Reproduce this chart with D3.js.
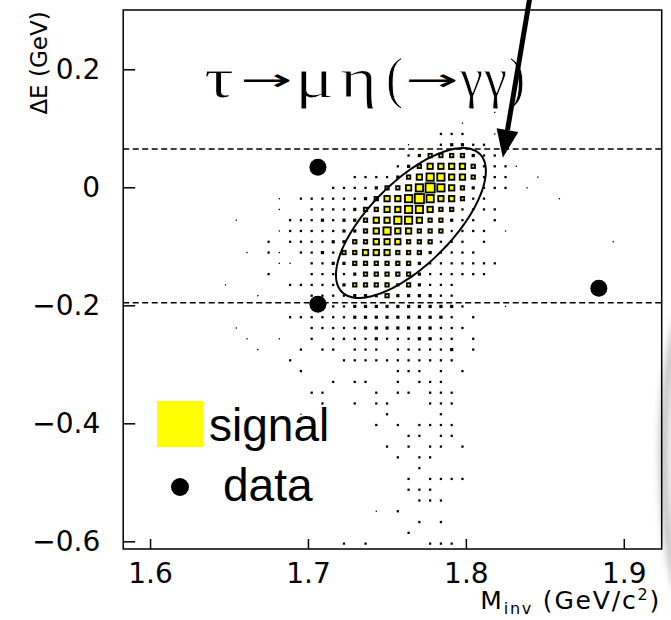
<!DOCTYPE html>
<html>
<head>
<meta charset="utf-8">
<script src="https://cdn.jsdelivr.net/npm/d3@7"></script>
<style>
  body { margin: 0; background: #fff; }
  svg { display: block; }
</style>
</head>
<body>
<svg id="chart" width="671" height="620"></svg>
<script>
// ---- data -------------------------------------------------------------
const massRange = [1.583, 1.924];      // M_inv axis (GeV/c^2)
const deRange = [-0.613, 0.3005];      // ΔE axis (GeV)
const nBinsMass = 50;
const nBinsDE = 50;

const massTicks = [1.6, 1.7, 1.8, 1.9];
const massTickLabels = ["1.6", "1.7", "1.8", "1.9"];
const deTicks = [0.2, 0, -0.2, -0.4, -0.6];
const deTickLabels = ["0.2", "0", "\u22120.2", "\u22120.4", "\u22120.6"];

// ΔE selection band (dashed lines)
const deBand = [0.065, -0.1955];

// observed events
const dataMass = [1.7063, 1.7063, 1.8842];
const dataDE = [0.034, -0.198, -0.171];

// signal MC, 2D histogram: [ΔE bin (from bottom), mass bin (from left), entries]
const signalCells = [
  [40,34,1],
  [39,31,1],
  [38,29,3],[38,30,3],[38,31,3],[38,34,1],
  [37,26,1],[37,29,3],[37,30,6],[37,31,6],[37,32,3],[37,33,3],
  [36,26,3],[36,27,6],[36,28,16],[36,29,16],[36,30,16],[36,31,16],[36,32,6],[36,33,3],[36,34,3],
  [35,25,3],[35,26,6],[35,27,16],[35,28,30],[35,29,30],[35,30,30],[35,31,30],[35,32,16],[35,33,3],[35,34,3],[35,35,3],[35,36,1],
  [34,21,3],[34,22,3],[34,23,3],[34,24,3],[34,25,6],[34,26,16],[34,27,30],[34,28,48],[34,29,48],[34,30,30],[34,31,30],[34,32,16],[34,33,3],[34,34,3],[34,35,3],[34,38,1],
  [33,19,3],[33,20,3],[33,21,3],[33,22,3],[33,23,6],[33,24,16],[33,25,16],[33,26,30],[33,27,48],[33,28,70],[33,29,48],[33,30,30],[33,31,16],[33,32,6],[33,33,3],[33,34,3],[33,35,3],[33,37,1],
  [32,14,1],[32,16,3],[32,17,3],[32,18,3],[32,19,3],[32,20,3],[32,21,3],[32,22,6],[32,23,16],[32,24,30],[32,25,30],[32,26,48],[32,27,70],[32,28,48],[32,29,30],[32,30,30],[32,31,16],[32,32,3],[32,33,3],[32,40,1],
  [31,14,1],[31,17,3],[31,18,3],[31,19,3],[31,20,3],[31,21,6],[31,22,16],[31,23,16],[31,24,30],[31,25,30],[31,26,48],[31,27,48],[31,28,30],[31,29,16],[31,30,16],[31,31,3],[31,32,3],[31,33,3],[31,34,3],
  [30,10,1],[30,15,3],[30,16,3],[30,17,3],[30,18,6],[30,19,3],[30,20,6],[30,21,6],[30,22,16],[30,23,30],[30,24,30],[30,25,48],[30,26,48],[30,27,30],[30,28,16],[30,29,16],[30,30,6],[30,31,3],[30,32,3],[30,34,3],
  [29,14,1],[29,15,3],[29,16,3],[29,17,3],[29,18,3],[29,19,3],[29,20,6],[29,21,6],[29,22,16],[29,23,30],[29,24,48],[29,25,30],[29,26,30],[29,27,16],[29,28,16],[29,29,16],[29,30,3],[29,31,3],[29,32,3],[29,33,3],[29,35,1],
  [28,13,3],[28,15,3],[28,16,3],[28,17,3],[28,18,3],[28,19,6],[28,20,6],[28,21,16],[28,22,16],[28,23,30],[28,24,30],[28,25,30],[28,26,16],[28,27,16],[28,28,16],[28,29,3],[28,30,3],[28,31,3],[28,33,3],[28,45,1],
  [27,11,1],[27,13,3],[27,14,1],[27,16,3],[27,17,3],[27,18,6],[27,19,3],[27,20,16],[27,21,16],[27,22,30],[27,23,30],[27,24,30],[27,25,16],[27,26,16],[27,27,16],[27,28,6],[27,29,3],[27,30,3],[27,31,3],[27,32,3],
  [26,14,1],[26,15,1],[26,17,3],[26,18,3],[26,19,6],[26,20,6],[26,21,16],[26,22,16],[26,23,16],[26,24,16],[26,25,16],[26,26,16],[26,27,6],[26,28,3],[26,29,3],[26,30,3],[26,31,3],[26,32,3],[26,33,3],[26,34,3],
  [25,13,3],[25,17,3],[25,18,3],[25,19,3],[25,20,3],[25,21,6],[25,22,16],[25,23,16],[25,24,16],[25,25,16],[25,26,16],[25,27,6],[25,28,3],[25,29,3],[25,30,3],[25,31,3],[25,32,3],[25,33,3],
  [24,9,1],[24,15,3],[24,16,3],[24,17,3],[24,18,3],[24,19,3],[24,20,6],[24,21,16],[24,22,16],[24,23,16],[24,24,16],[24,25,6],[24,26,16],[24,27,6],[24,28,3],[24,29,3],[24,30,3],
  [23,12,1],[23,17,3],[23,18,3],[23,19,3],[23,20,3],[23,21,6],[23,22,6],[23,23,6],[23,24,16],[23,25,6],[23,26,6],[23,27,6],[23,28,6],[23,29,3],[23,30,3],
  [22,19,3],[22,20,3],[22,21,6],[22,22,6],[22,23,6],[22,24,6],[22,25,6],[22,26,6],[22,27,6],[22,28,6],[22,29,6],[22,30,6],[22,31,3],[22,35,1],
  [21,15,3],[21,16,3],[21,17,3],[21,18,3],[21,19,3],[21,20,3],[21,21,6],[21,22,6],[21,23,6],[21,24,6],[21,25,6],[21,26,6],[21,27,6],[21,28,6],[21,29,6],[21,30,3],[21,32,3],
  [20,10,1],[20,17,3],[20,18,3],[20,19,3],[20,20,3],[20,21,3],[20,22,6],[20,23,6],[20,24,6],[20,25,6],[20,26,6],[20,27,6],[20,28,6],[20,29,3],[20,30,3],[20,31,3],
  [19,11,1],[19,14,1],[19,17,3],[19,19,3],[19,20,3],[19,21,3],[19,22,3],[19,23,6],[19,24,3],[19,25,3],[19,26,3],[19,27,6],[19,28,6],[19,29,3],[19,30,3],[19,32,3],
  [18,12,1],[18,16,3],[18,18,3],[18,19,3],[18,21,3],[18,22,3],[18,23,3],[18,25,3],[18,26,3],[18,27,3],[18,28,3],[18,29,3],[18,30,6],[18,32,3],
  [17,15,3],[17,20,3],[17,21,3],[17,22,3],[17,23,3],[17,24,3],[17,25,3],[17,26,3],[17,27,3],[17,28,3],[17,29,3],[17,30,3],
  [16,16,3],[16,25,3],[16,26,3],[16,27,3],[16,29,3],[16,31,3],
  [15,19,3],[15,21,3],[15,22,3],[15,25,3],[15,27,3],[15,28,3],[15,29,3],
  [14,17,3],[14,18,3],[14,23,3],[14,25,3],[14,26,3],[14,28,3],[14,29,3],[14,30,3],
  [13,18,3],[13,21,3],[13,23,3],[13,24,3],[13,28,3],[13,29,3],[13,30,3],
  [12,16,1],[12,24,3],[12,29,3],
  [11,23,3],[11,25,3],[11,27,3],[11,28,3],[11,29,3],[11,30,3],
  [10,26,3],[10,27,3],[10,29,3],[10,30,3],
  [9,24,3],[9,26,3],[9,28,3],[9,29,3],[9,31,3],
  [8,25,3],[8,27,3],[8,28,3],
  [7,27,3],
  [6,26,3],[6,28,3],[6,29,3],[6,30,3],[6,31,3],
  [5,26,3],[5,27,3],[5,28,3],
  [4,27,3],[4,28,3],[4,29,3],
  [3,23,1],[3,25,3],
  [2,27,3],[2,29,3],
  [1,26,3],
  [0,20,3],[0,22,3],[0,28,3],[0,29,3],[0,30,3]
];
const fullBinEntries = 67;   // entries that fill a whole bin

// signal region ellipse: centre and semi-axis vectors in (M, ΔE)
const ellipseCentre = [1.7652, -0.0605];
const ellipseMajor = [0.04367, 0.1169];
const ellipseMinor = [0.01857, -0.0497];

// annotation arrow (tail, tip) in (M, ΔE)
const arrowTail = [1.8406, 0.323];
const arrowTip = [1.8234, 0.050];

// ---- drawing ----------------------------------------------------------
const svg = d3.select("#chart");
const frame = { left: 123.2, right: 661.7, top: 10, bottom: 549 };

const x = d3.scaleLinear().domain(massRange).range([frame.left, frame.right]);
const y = d3.scaleLinear().domain(deRange).range([frame.bottom, frame.top]);

const dMass = (massRange[1] - massRange[0]) / nBinsMass;
const dDE = (deRange[1] - deRange[0]) / nBinsDE;
const binPx = x(massRange[0] + dMass) - x(massRange[0]);
const side = d3.scaleSqrt().domain([0, fullBinEntries]).range([0, binPx]);

// soft grey edge at the right border of the page
const defs = svg.append("defs");
defs.append("filter").attr("id", "soft").attr("x", "-50%").attr("y", "-50%")
  .attr("width", "200%").attr("height", "200%")
  .append("feGaussianBlur").attr("stdDeviation", 4);
svg.append("ellipse")
  .attr("cx", 700).attr("cy", 455).attr("rx", 36).attr("ry", 165)
  .attr("fill", "none").attr("stroke", "#8a8a8a").attr("stroke-width", 6)
  .attr("filter", "url(#soft)").attr("opacity", 0.8);

// histogram boxes
const gBoxes = svg.append("g");
signalCells.forEach(([b, i, n]) => {
  const cx = x(massRange[0] + (i + 0.5) * dMass);
  const cy = y(deRange[0] + (b + 0.5) * dDE);
  const s = side(n);
  if (s < 4) {
    gBoxes.append("rect")
      .attr("x", cx - s / 2).attr("y", cy - s / 2)
      .attr("width", s).attr("height", s)
      .attr("fill", "#000");
  } else {
    const sw = 1.8;
    gBoxes.append("rect")
      .attr("x", cx - s / 2 + sw / 2).attr("y", cy - s / 2 + sw / 2)
      .attr("width", s - sw).attr("height", s - sw)
      .attr("fill", "#ffff00")
      .attr("stroke", "#000")
      .attr("stroke-width", sw);
  }
});

// ΔE band
svg.append("g").selectAll("line").data(deBand).join("line")
  .attr("x1", frame.left).attr("x2", frame.right)
  .attr("y1", d => y(d)).attr("y2", d => y(d))
  .attr("stroke", "#000").attr("stroke-width", 1.5)
  .attr("stroke-dasharray", "6,3.5");

// signal region ellipse
const ellPts = d3.range(0, 360, 3).map(deg => {
  const t = deg * Math.PI / 180;
  return [
    x(ellipseCentre[0] + Math.cos(t) * ellipseMajor[0] + Math.sin(t) * ellipseMinor[0]),
    y(ellipseCentre[1] + Math.cos(t) * ellipseMajor[1] + Math.sin(t) * ellipseMinor[1])
  ];
});
svg.append("path")
  .attr("d", d3.line().curve(d3.curveCardinalClosed)(ellPts))
  .attr("fill", "none").attr("stroke", "#000").attr("stroke-width", 2);

// data points
svg.append("g").selectAll("circle").data(dataMass).join("circle")
  .attr("cx", d => x(d)).attr("cy", (d, i) => y(dataDE[i]))
  .attr("r", 8.5).attr("fill", "#000");

// frame
svg.append("rect")
  .attr("x", frame.left).attr("y", frame.top)
  .attr("width", frame.right - frame.left).attr("height", frame.bottom - frame.top)
  .attr("fill", "none").attr("stroke", "#000").attr("stroke-width", 1.5);

// axes
const axisFont = "'DejaVu Sans', sans-serif";
const yAxis = svg.append("g").attr("transform", `translate(${frame.left},0)`)
  .call(d3.axisLeft(y).tickValues(deTicks).tickSize(-12).tickPadding(23)
    .tickFormat((d, i) => deTickLabels[i]));
const xAxis = svg.append("g").attr("transform", `translate(0,${frame.bottom})`)
  .call(d3.axisBottom(x).tickValues(massTicks).tickSize(-10).tickPadding(14)
    .tickFormat((d, i) => massTickLabels[i]));
[yAxis, xAxis].forEach(g => {
  g.select(".domain").remove();
  g.selectAll(".tick line").attr("stroke", "#000").attr("stroke-width", 1.5);
  g.selectAll(".tick text").attr("font-family", axisFont).attr("font-size", 28).attr("fill", "#000");
});

// axis titles
svg.append("text")
  .attr("transform", "translate(47,63) rotate(-90)")
  .attr("text-anchor", "middle")
  .attr("font-family", axisFont).attr("font-size", 23).attr("fill", "#000")
  .text("\u0394E (GeV)");

const xt = svg.append("text")
  .attr("x", 661).attr("y", 609)
  .attr("text-anchor", "end")
  .attr("font-family", axisFont).attr("font-size", 25).attr("fill", "#000")
  .attr("letter-spacing", 1.8);
xt.append("tspan").text("M");
xt.append("tspan").attr("font-size", 16).attr("dy", 5).text("inv");
xt.append("tspan").attr("dy", -5).text(" (GeV/c");
xt.append("tspan").attr("font-size", 16).attr("dy", -9).text("2");
xt.append("tspan").attr("dy", 9).text(")");

// decay channel, glyph by glyph (arrows drawn small and stretched: thin and long)
const titleGlyphs = ["\u03c4", "\u2192", "\u03bc", "\u03b7", "(", "\u2192", "\u03b3", "\u03b3", ")"];
const glyphX = [204, 240, 295, 340, 386, 405, 460, 484, 509];
const glyphW = [30, 52, 39, 37, 17, 53, 23, 23, 16];
const isArrow = d => d === "\u2192";
svg.append("g").selectAll("text").data(titleGlyphs).join("text")
  .attr("x", (d, i) => glyphX[i])
  .attr("y", d => isArrow(d) ? 90 : 97)
  .attr("font-family", d => isArrow(d) ? "'DejaVu Sans', sans-serif" : "'Liberation Serif', 'DejaVu Serif', serif")
  .attr("font-size", d => isArrow(d) ? 30 : 58)
  .attr("fill", "#000")
  .attr("stroke", d => isArrow(d) ? "none" : "#fff")
  .attr("stroke-width", 0.9)
  .attr("textLength", (d, i) => glyphW[i]).attr("lengthAdjust", "spacingAndGlyphs")
  .text(d => d);

// annotation arrow
const tail = [x(arrowTail[0]), y(arrowTail[1])];
const tip = [x(arrowTip[0]), y(arrowTip[1])];
const ang = Math.atan2(tip[1] - tail[1], tip[0] - tail[0]);
const headLen = 28, headHalf = 11;
const base = [tip[0] - headLen * Math.cos(ang), tip[1] - headLen * Math.sin(ang)];
svg.append("line")
  .attr("x1", tail[0]).attr("y1", tail[1]).attr("x2", base[0]).attr("y2", base[1])
  .attr("stroke", "#000").attr("stroke-width", 5);
svg.append("path")
  .attr("d", `M${tip[0]},${tip[1]}L${base[0] - headHalf * Math.sin(ang)},${base[1] + headHalf * Math.cos(ang)}L${base[0] + headHalf * Math.sin(ang)},${base[1] - headHalf * Math.cos(ang)}Z`)
  .attr("fill", "#000");

// legend
const lg = svg.append("g");
lg.append("rect").attr("x", 157).attr("y", 401).attr("width", 46).attr("height", 46).attr("fill", "#ffff00");
lg.append("text").attr("x", 209).attr("y", 441)
  .attr("font-family", "'Liberation Sans', Arial, sans-serif").attr("font-size", 46).attr("fill", "#000")
  .text("signal");
lg.append("circle").attr("cx", 180).attr("cy", 487).attr("r", 9).attr("fill", "#000");
lg.append("text").attr("x", 223).attr("y", 501)
  .attr("font-family", "'Liberation Sans', Arial, sans-serif").attr("font-size", 46).attr("fill", "#000")
  .text("data");
</script>
</body>
</html>
